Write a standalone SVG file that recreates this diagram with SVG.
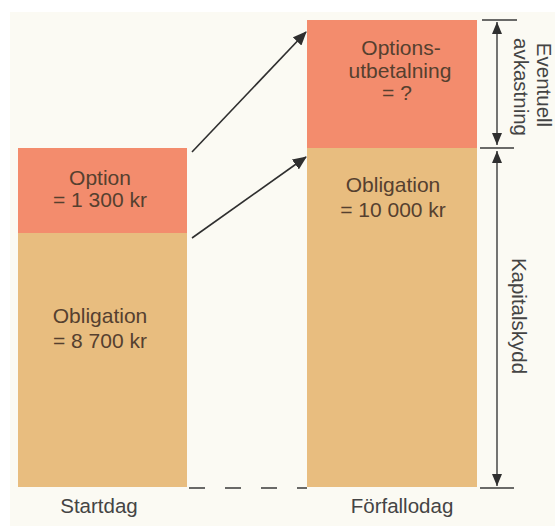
<svg xmlns="http://www.w3.org/2000/svg" width="555" height="526" viewBox="0 0 555 526">
  <style>
    .box-red { fill: #f38c6d; }
    .box-tan { fill: #e8bd7f; }
    .in { font-family: "Liberation Sans", Arial, sans-serif; font-size: 21px; fill: #55402f; text-anchor: middle; }
    .lbl { font-family: "Liberation Sans", Arial, sans-serif; font-size: 20.5px; fill: #444444; text-anchor: middle; }
    .conn { stroke: #2f2f2f; stroke-width: 1.6; fill: none; }
    .dim { stroke: #3a3a3a; stroke-width: 1.4; fill: none; }
  </style>
  <defs>
    <marker id="ah" viewBox="0 0 14 12" refX="13" refY="6" markerWidth="14" markerHeight="12" markerUnits="userSpaceOnUse" orient="auto">
      <path d="M0,0 L14,6 L0,12 Z" fill="#2f2f2f"/>
    </marker>
    <marker id="dh" viewBox="0 0 12 10" refX="12" refY="5" markerWidth="12" markerHeight="10" markerUnits="userSpaceOnUse" orient="auto-start-reverse">
      <path d="M0,0 L12,5 L0,10 Z" fill="#2f2f2f"/>
    </marker>
  </defs>

  <rect x="0" y="0" width="555" height="526" fill="#ffffff"/>
  <rect x="10" y="12" width="545" height="514" fill="#fbfaf3"/>

  <g id="start-option">
    <rect class="box-red" x="18" y="148" width="169" height="86"/>
    <text class="in" x="100" y="185">Option</text>
    <text class="in" x="100" y="207">= 1 300 kr</text>
  </g>
  <g id="start-obligation">
    <rect class="box-tan" x="18" y="233" width="169" height="254"/>
    <text class="in" x="100" y="323">Obligation</text>
    <text class="in" x="100" y="348">= 8 700 kr</text>
  </g>
  <g id="end-option">
    <rect class="box-red" x="307" y="20" width="170" height="129"/>
    <text class="in" x="401" y="55">Options-</text>
    <text class="in" x="400" y="78">utbetalning</text>
    <text class="in" x="397" y="100">= ?</text>
  </g>
  <g id="end-obligation">
    <rect class="box-tan" x="307" y="148" width="170" height="339"/>
    <text class="in" x="393" y="192">Obligation</text>
    <text class="in" x="393" y="217">= 10 000 kr</text>
  </g>

  <g id="labels">
    <text class="lbl" x="99" y="513">Startdag</text>
    <text class="lbl" x="402" y="513">Förfallodag</text>
    <text class="lbl" transform="translate(537,85) rotate(90)">Eventuell</text>
    <text class="lbl" transform="translate(514,87) rotate(90)">avkastning</text>
    <text class="lbl" transform="translate(512,316) rotate(90)">Kapitalskydd</text>
  </g>

  <g id="connectors">
    <line class="conn" x1="192" y1="152" x2="306" y2="32" marker-end="url(#ah)"/>
    <line class="conn" x1="192" y1="238" x2="306" y2="157" marker-end="url(#ah)"/>
    <line class="dim" x1="189" y1="488" x2="307" y2="488" stroke-dasharray="16 20"/>
    <line class="dim" x1="480" y1="488" x2="514" y2="488"/>
    <line class="dim" x1="482" y1="20" x2="517" y2="20"/>
    <line class="dim" x1="480" y1="148" x2="514" y2="148"/>
    <line class="dim" x1="497" y1="22" x2="497" y2="145" marker-start="url(#dh)" marker-end="url(#dh)"/>
    <line class="dim" x1="497" y1="151" x2="497" y2="486" marker-start="url(#dh)" marker-end="url(#dh)"/>
  </g>
</svg>
